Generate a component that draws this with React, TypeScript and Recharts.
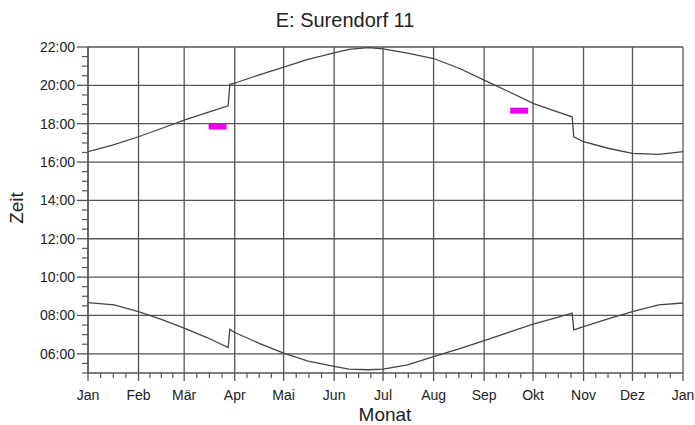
import React from 'react';
import { LineChart, Line, XAxis, YAxis, CartesianGrid } from 'recharts';

const monthLabels = ['Jan', 'Feb', 'Mär', 'Apr', 'Mai', 'Jun', 'Jul', 'Aug', 'Sep', 'Okt', 'Nov', 'Dez', 'Jan'];
const monthStartDays = [0, 31, 59, 90, 120, 151, 181, 212, 243, 273, 304, 334, 365];
const hourTicks = [6, 8, 10, 12, 14, 16, 18, 20, 22];

// Sunset (upper curve): day of year, hour of day
const sunsetDays = [0, 15, 31, 45, 59, 73, 86, 87, 90, 105, 120, 135, 151, 160, 172, 181, 196, 212, 228, 243, 258, 273, 288, 297, 298, 304, 319, 334, 350, 365];
const sunsetHours = [16.54, 16.88, 17.32, 17.75, 18.19, 18.58, 18.93, 20.05, 20.11, 20.55, 20.95, 21.35, 21.69, 21.88, 21.97, 21.9, 21.68, 21.4, 20.88, 20.27, 19.68, 19.06, 18.62, 18.36, 17.32, 17.06, 16.72, 16.45, 16.4, 16.54];

// Sunrise (lower curve)
const sunriseDays = [0, 16, 31, 45, 59, 73, 86, 87, 90, 105, 120, 135, 151, 160, 172, 181, 196, 212, 228, 243, 258, 273, 288, 297, 298, 304, 319, 334, 350, 365];
const sunriseHours = [8.67, 8.55, 8.2, 7.8, 7.34, 6.85, 6.33, 7.27, 7.11, 6.55, 6.04, 5.62, 5.34, 5.2, 5.17, 5.2, 5.42, 5.86, 6.27, 6.69, 7.12, 7.55, 7.9, 8.12, 7.25, 7.42, 7.82, 8.2, 8.55, 8.65];

// Magenta marks
const markMarchDays = [74, 85];
const markMarchHours = [17.85, 17.85];
const markSeptDays = [259, 270];
const markSeptHours = [18.68, 18.68];

const toSeries = (days: number[], hours: number[]) => days.map((d, i) => ({ d, h: hours[i] }));

const sunsetData = toSeries(sunsetDays, sunsetHours);
const sunriseData = toSeries(sunriseDays, sunriseHours);
const marchData = toSeries(markMarchDays, markMarchHours);
const septData = toSeries(markSeptDays, markSeptHours);

const xTicks: number[] = [];
for (let i = 0; i < monthStartDays.length - 1; i++) {
  const a = monthStartDays[i];
  const b = monthStartDays[i + 1];
  for (let k = 0; k < 4; k++) xTicks.push(a + ((b - a) * k) / 4);
}
xTicks.push(365);

const yTicks: number[] = [];
for (let v = 5; v <= 22; v += 0.5) yTicks.push(v);

const AXIS = '#555';
const FONT = '"Liberation Sans", Arial, sans-serif';

const XTick = (props: any) => {
  const { x, y, payload } = props;
  const v = payload.value;
  const idx = monthStartDays.indexOf(v);
  if (idx >= 0) {
    return (
      <g>
        <line x1={x} y1={y} x2={x} y2={y + 8} stroke={AXIS} strokeWidth={1.3} />
        <text x={x} y={y + 27} textAnchor="middle" fontSize={14} fontFamily={FONT} fill="#222">
          {monthLabels[idx]}
        </text>
      </g>
    );
  }
  return <line x1={x} y1={y} x2={x} y2={y + 5} stroke={AXIS} strokeWidth={1.2} />;
};

const YTick = (props: any) => {
  const { x, y, payload } = props;
  const v = payload.value;
  if (hourTicks.indexOf(v) >= 0) {
    const label = `${String(v).padStart(2, '0')}:00`;
    return (
      <g>
        <line x1={x - 11} y1={y} x2={x} y2={y} stroke={AXIS} strokeWidth={1.3} />
        <text x={x - 13} y={y + 5} textAnchor="end" fontSize={14} fontFamily={FONT} fill="#222">
          {label}
        </text>
      </g>
    );
  }
  return <line x1={x - 6} y1={y} x2={x} y2={y} stroke={AXIS} strokeWidth={1.2} />;
};

export default function App() {
  return (
    <div style={{ position: 'absolute', left: 0, top: 0, width: 695, height: 425, background: '#fff', fontFamily: FONT }}>
      <div style={{ position: 'absolute', left: 0, top: 9, width: 690, textAlign: 'center', fontSize: 20, lineHeight: '22px', color: '#222' }}>
        E: Surendorf 11
      </div>
      <div style={{ position: 'absolute', left: 17, top: 208, transform: 'translate(-50%, -50%) rotate(-90deg)', fontSize: 19, lineHeight: '22px', color: '#222', whiteSpace: 'nowrap' }}>
        Zeit
      </div>
      <div style={{ position: 'absolute', left: 285, top: 405, width: 200, textAlign: 'center', fontSize: 19, lineHeight: '19px', color: '#222', whiteSpace: 'nowrap' }}>
        Monat
      </div>
      <LineChart width={695} height={425} margin={{ top: 47, right: 12, bottom: 0, left: 0 }}>
        <CartesianGrid
          stroke={AXIS}
          strokeWidth={1.3}
          verticalValues={monthStartDays}
          horizontalValues={hourTicks}
        />
        <XAxis
          type="number"
          dataKey="d"
          domain={[0, 365]}
          ticks={xTicks}
          interval={0}
          height={52}
          tickSize={0}
          tickMargin={0}
          tickLine={false}
          tick={<XTick />}
          axisLine={{ stroke: AXIS, strokeWidth: 1.3 }}
          allowDataOverflow
        />
        <YAxis
          type="number"
          domain={[5, 22]}
          ticks={yTicks}
          interval={0}
          width={88}
          tickSize={0}
          tickMargin={0}
          tickLine={false}
          tick={<YTick />}
          axisLine={{ stroke: AXIS, strokeWidth: 1.3 }}
          allowDataOverflow
        />
        <Line data={sunsetData} dataKey="h" type="linear" stroke="#444" strokeWidth={1.3} dot={false} isAnimationActive={false} />
        <Line data={sunriseData} dataKey="h" type="linear" stroke="#444" strokeWidth={1.3} dot={false} isAnimationActive={false} />
        <Line data={marchData} dataKey="h" type="linear" stroke="#ee00ee" strokeWidth={6} dot={false} isAnimationActive={false} />
        <Line data={septData} dataKey="h" type="linear" stroke="#ee00ee" strokeWidth={6} dot={false} isAnimationActive={false} />
      </LineChart>
    </div>
  );
}
